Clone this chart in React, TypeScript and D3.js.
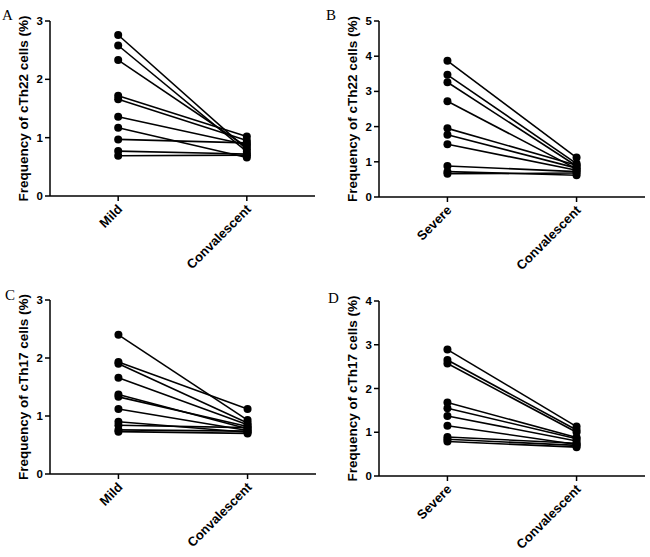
import React from "react";
import * as d3 from "d3";

// ---- data ----
const aCategories = ["Mild", "Convalescent"];
const aMild = [2.76, 2.58, 2.33, 1.72, 1.66, 1.36, 1.17, 0.97, 0.77, 0.69];
const aConv = [0.8, 0.76, 0.84, 1.02, 0.95, 0.88, 0.66, 0.91, 0.72, 0.7];
const aTicks = [0, 1, 2, 3];

const bCategories = ["Severe", "Convalescent"];
const bSevere = [3.87, 3.47, 3.26, 2.72, 1.95, 1.77, 1.5, 0.88, 0.72, 0.66];
const bConv = [1.12, 0.95, 0.88, 0.8, 0.9, 0.82, 0.76, 0.72, 0.62, 0.68];
const bTicks = [0, 1, 2, 3, 4, 5];

const cCategories = ["Mild", "Convalescent"];
const cMild = [2.4, 1.93, 1.9, 1.66, 1.37, 1.33, 1.12, 0.9, 0.84, 0.76, 0.73];
const cConv = [0.93, 1.12, 0.88, 0.85, 0.78, 0.82, 0.75, 0.72, 0.8, 0.74, 0.7];
const cTicks = [0, 1, 2, 3];

const dCategories = ["Severe", "Convalescent"];
const dSevere = [2.89, 2.65, 2.57, 1.68, 1.55, 1.37, 1.15, 0.89, 0.84, 0.79];
const dConv = [1.13, 1.05, 1.0, 0.88, 0.85, 0.8, 0.72, 0.75, 0.7, 0.66];
const dTicks = [0, 1, 2, 3, 4];

const FONT = "'Liberation Sans', Arial, sans-serif";

type PanelProps = {
  letter: string;
  ylabel: string;
  categories: string[];
  before: number[];
  after: number[];
  ticks: number[];
  x0: number;
  x1: number;
  yBottom: number;
  yTop: number;
  letterX: number;
  letterY: number;
};

function Panel(p: PanelProps) {
  const maxT = p.ticks[p.ticks.length - 1];
  const y = d3.scaleLinear().domain([0, maxT]).range([p.yBottom, p.yTop]);
  const x = d3.scalePoint<string>().domain(p.categories).range([p.x0, p.x1]).padding(0.53);
  const pairs = p.before.map((b, i) => [b, p.after[i]] as [number, number]);
  const line = d3
    .line<[number, number]>()
    .x((_, i) => x(p.categories[i]) as number)
    .y((d) => y(d[1]));
  const yMid = (p.yBottom + p.yTop) / 2;
  const ylabX = p.x0 - 22;
  return (
    <g>
      <text x={p.letterX} y={p.letterY} fontFamily="'Liberation Serif', 'Times New Roman', serif" fontSize={15}>
        {p.letter}
      </text>
      <text
        transform={`translate(${ylabX},${yMid}) rotate(-90)`}
        textAnchor="middle"
        fontFamily={FONT}
        fontWeight="bold"
        fontSize={13.5}
      >
        {p.ylabel}
      </text>
      {/* y axis */}
      <line x1={p.x0} x2={p.x0} y1={p.yTop} y2={p.yBottom} stroke="#000" strokeWidth={1.5} />
      {p.ticks.map((t) => (
        <g key={t}>
          <line x1={p.x0 - 5} x2={p.x0} y1={y(t)} y2={y(t)} stroke="#000" strokeWidth={1.5} />
          <text
            x={p.x0 - 7}
            y={y(t)}
            dy="0.35em"
            textAnchor="end"
            fontFamily={FONT}
            fontWeight="bold"
            fontSize={11.5}
          >
            {t}
          </text>
        </g>
      ))}
      {/* x axis */}
      <line x1={p.x0} x2={p.x1} y1={p.yBottom} y2={p.yBottom} stroke="#000" strokeWidth={1.5} />
      {p.categories.map((c) => (
        <g key={c}>
          <line
            x1={x(c) as number}
            x2={x(c) as number}
            y1={p.yBottom}
            y2={p.yBottom + 5}
            stroke="#000"
            strokeWidth={1.5}
          />
          <text
            transform={`translate(${(x(c) as number) + 5},${p.yBottom + 14}) rotate(-45)`}
            textAnchor="end"
            fontFamily={FONT}
            fontWeight="bold"
            fontSize={13}
          >
            {c}
          </text>
        </g>
      ))}
      {/* pairs */}
      {pairs.map((d, i) => (
        <path
          key={"l" + i}
          d={line([
            [0, d[0]],
            [1, d[1]],
          ]) as string}
          fill="none"
          stroke="#000"
          strokeWidth={1.6}
        />
      ))}
      {pairs.map((d, i) => (
        <g key={"p" + i}>
          <circle cx={x(p.categories[0]) as number} cy={y(d[0])} r={4} fill="#000" />
          <circle cx={x(p.categories[1]) as number} cy={y(d[1])} r={4} fill="#000" />
        </g>
      ))}
    </g>
  );
}

export default function App() {
  return (
    <svg
      width={650}
      height={557}
      style={{ position: "absolute", left: 0, top: 0, background: "#fff" }}
    >
      <rect width={650} height={557} fill="#fff" />
      <Panel
        letter="A"
        ylabel="Frequency of cTh22 cells (%)"
        categories={aCategories}
        before={aMild}
        after={aConv}
        ticks={aTicks}
        x0={50}
        x1={315}
        yBottom={196}
        yTop={21}
        letterX={2}
        letterY={20}
      />
      <Panel
        letter="B"
        ylabel="Frequency of cTh22 cells (%)"
        categories={bCategories}
        before={bSevere}
        after={bConv}
        ticks={bTicks}
        x0={379}
        x1={645}
        yBottom={197}
        yTop={21}
        letterX={326}
        letterY={20}
      />
      <Panel
        letter="C"
        ylabel="Frequency of cTh17 cells (%)"
        categories={cCategories}
        before={cMild}
        after={cConv}
        ticks={cTicks}
        x0={50}
        x1={316}
        yBottom={474}
        yTop={300}
        letterX={5}
        letterY={300}
      />
      <Panel
        letter="D"
        ylabel="Frequency of cTh17 cells (%)"
        categories={dCategories}
        before={dSevere}
        after={dConv}
        ticks={dTicks}
        x0={379}
        x1={645}
        yBottom={476}
        yTop={301}
        letterX={328}
        letterY={303}
      />
    </svg>
  );
}
